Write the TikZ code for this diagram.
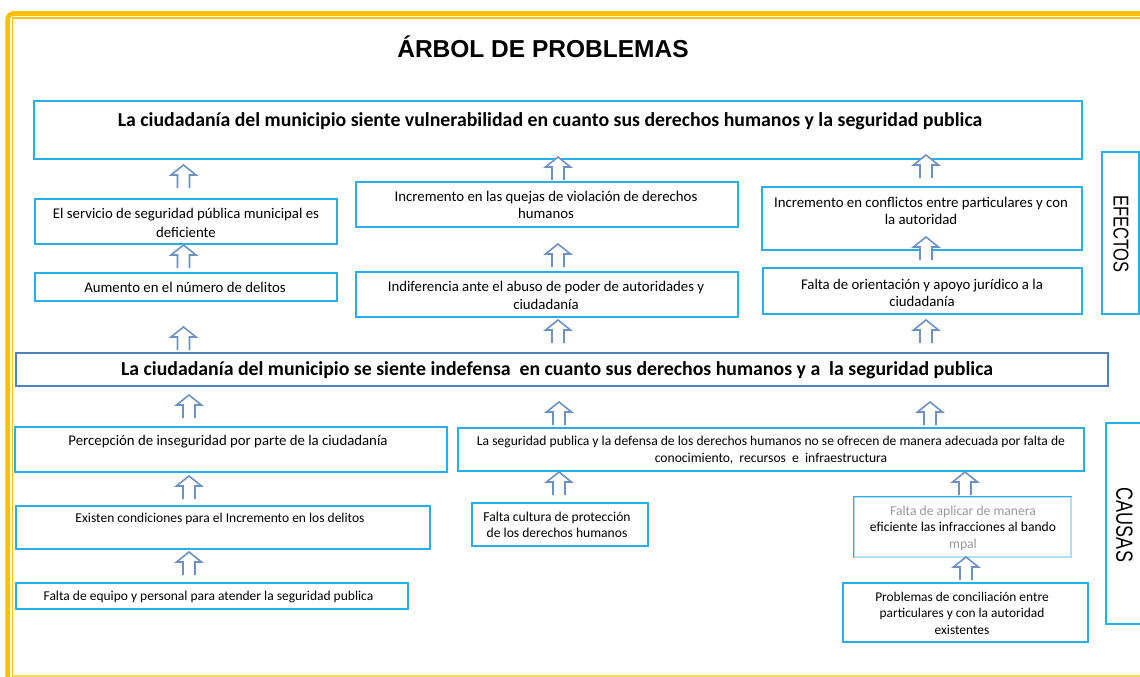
\documentclass[tikz,border=0pt]{standalone}
\usepackage{fontspec}
\setmainfont{Carlito}
\newfontfamily\arialf{Liberation Sans}
\usetikzlibrary{fit}
\definecolor{boxblue}{RGB}{40,175,235}
\definecolor{midblue}{RGB}{79,129,189}
\definecolor{gold}{RGB}{255,192,0}
\definecolor{goldlight}{RGB}{255,217,102}
\definecolor{arrowc}{RGB}{110,145,192}
\definecolor{fadeblue}{RGB}{175,222,245}
\begin{document}
\begin{tikzpicture}[x=1pt,y=-1pt,
  bx/.style={draw=boxblue,line width=1.1pt,inner sep=0pt},
  midbx/.style={draw=midblue,line width=2pt,inner sep=0pt},
  txt/.style={inner sep=0pt,align=center,font=\fontsize{14.8}{17.5}\selectfont},
  ctxt/.style={inner sep=0pt,align=center,font=\fontsize{13.5}{16.5}\selectfont},
  stxt/.style={inner sep=0pt,align=center,font=\fontsize{13.6}{16.5}\selectfont},
  htxt/.style={inner sep=0pt,font=\fontsize{19.8}{22}\selectfont\bfseries},
  sidetxt/.style={inner sep=0pt,rotate=-90,font=\arialf\fontsize{16.5}{18}\selectfont},
  uparr/.pic={\draw[arrowc,line width=1.6pt,fill=white,line join=miter]
     (-6,23)--(-6,10)--(-12.5,10)--(0,0)--(12.5,10)--(6,10)--(6,23);}
]
\useasboundingbox (0,0) rectangle (1140,677);
\fill[white] (0,0) rectangle (1140,677);

% page frame
\draw[gold,line width=4.7pt,rounded corners=6pt] (7.7,680) -- (7.7,13.5) -- (1145,13.5);
\draw[gold,line width=1.3pt] (12.7,680) -- (12.7,18) -- (1145,18);
\draw[goldlight,line width=1.5pt] (12.7,676) -- (1145,676);

% title
\node[inner sep=0pt,anchor=base,font=\arialf\bfseries\fontsize{24.5}{27}\selectfont] (title) at (543,58) {ÁRBOL DE PROBLEMAS};

% effect boxes
\node[bx,fit={(34,101) (1082,159)}] (top) {};
\node[bx,fit={(35,199) (337,244)}] (b2) {};
\node[bx,fit={(35,273) (337,301)}] (b3) {};
\node[bx,fit={(356,182) (738,227)}] (b4) {};
\node[bx,fit={(356,272) (738,317)}] (b5) {};
\node[bx,fit={(762,187) (1082,250)}] (b6) {};
\node[bx,fit={(763,268) (1082,314)}] (b7) {};
\node[bx,fit={(1102,152) (1139,314)}] (efe) {};

% central problem
\node[midbx,fit={(16,353) (1108,386)}] (mid) {};

% cause boxes
\node[bx,fit={(15,427) (447,472)}] (b10) {};
\node[bx,fit={(16,506) (430,549)}] (b11) {};
\node[bx,fit={(16,583) (408,609)}] (b12) {};
\node[bx,fit={(458,428) (1084,471)}] (b13) {};
\node[bx,fit={(472,503) (648,546)}] (b14) {};
\node[bx,draw=fadeblue,fit={(854,497) (1071,557)}] (b15) {};
\draw[boxblue,line width=1.1pt] (b15.south west) -- (b15.north west) -- (b15.north east);
\node[bx,fit={(843,583) (1088,642)}] (b16) {};
\node[bx,fit={(1106,423) (1142,624)}] (cau) {};

% texts
\node[htxt] (t1) at (550,121) {La ciudadanía del municipio siente vulnerabilidad en cuanto sus derechos humanos y la seguridad publica};
\node[txt,font=\fontsize{14.8}{19}\selectfont] (t2) at (186,222.5) {El servicio de seguridad pública municipal es\\deficiente};
\node[txt] (t3) at (185,287) {Aumento en el número de delitos};
\node[txt] (t4) at (546,205) {Incremento en las quejas de violación de derechos\\humanos};
\node[txt] (t5) at (546,295.5) {Indiferencia ante el abuso de poder de autoridades y\\ciudadanía};
\node[txt] (t6) at (921,211) {Incremento en conflictos entre particulares y con\\la autoridad};
\node[txt] (t7) at (922,293) {Falta de orientación y apoyo jurídico a la\\ciudadanía};
\node[sidetxt] (t8) at (1121,234) {\scalebox{1}[1.3]{EFECTOS}};

\node[htxt] (t9) at (557,370) {La ciudadanía del municipio se siente indefensa\ \ en cuanto sus derechos humanos y a\ \ la seguridad publica};

\node[txt] (t10) at (228,442) {Percepción de inseguridad por parte de la ciudadanía};
\node[ctxt] (t11) at (220,519) {Existen condiciones para el Incremento en los delitos};
\node[ctxt] (t12) at (208.5,597) {Falta de equipo y personal para atender la seguridad publica};
\node[stxt] (t13) at (771,450) {La seguridad publica y la defensa de los derechos humanos no se ofrecen de manera adecuada por falta de\\conocimiento,\ \ recursos\ \ e\ \ infraestructura};
\node[stxt] (t14) at (557,525) {Falta cultura de protección\\de los derechos humanos};
\node[stxt] (t15) at (963,528) {\textcolor{black!40}{Falta de aplicar de manera}\\eficiente las infracciones al bando\\\textcolor{black!40}{mpal}};
\node[stxt,font=\fontsize{13.4}{16.5}\selectfont] (t16) at (962,613) {Problemas de conciliación entre\\particulares y con la autoridad\\existentes};
\node[sidetxt,font=\arialf\fontsize{18}{20}\selectfont] (t17) at (1124.5,525) {\scalebox{1}[1.3]{CAUSAS}};

% hollow arrows
\foreach \ax/\ay in {183.5/165,183.5/245,183.5/327,558/157,558/244,558/320,926/155,926/237,926/320,
                     189/395,189/476,189/552,559/402,559/472,930/402,965/472,966/557}
  \pic at (\ax,\ay) {uparr};
\end{tikzpicture}
\end{document}
